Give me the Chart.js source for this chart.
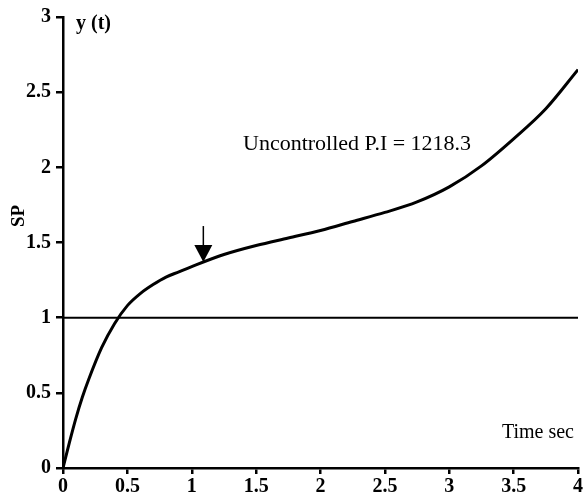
<!DOCTYPE html>
<html>
<head>
<meta charset="utf-8">
<script src="https://cdn.jsdelivr.net/npm/chart.js@4"></script>
<style>
body{margin:0;background:#fff}
#wrap{width:587px;height:500px}
</style>
</head>
<body>
<div id="wrap"><canvas id="chart"></canvas></div>
<script>
const timeVals=[0,0.05,0.1,0.15,0.2,0.3,0.4,0.5,0.6,0.7,0.8,0.9,1.0,1.25,1.5,1.75,2,2.25,2.5,2.75,3,3.25,3.5,3.75,4]
const yVals=[0,0.17,0.33,0.47,0.59,0.80,0.96,1.08,1.16,1.22,1.27,1.305,1.34,1.42,1.48,1.53,1.58,1.64,1.70,1.77,1.87,2.01,2.19,2.39,2.65]
const spTime=[0,4]
const spVals=[1,1]
const arrowAt={x:1.09,y:1.37}

const ctx=document.getElementById("chart").getContext("2d")

const serif="'Liberation Serif','Times New Roman',serif"

/* TEXT + ARROW */
const extras={
id:"extras",
afterDraw(chart){
const c=chart.ctx
const xs=chart.scales.x
const ys=chart.scales.y
c.save()
c.fillStyle="#000"
c.strokeStyle="#000"

c.font="bold 20px "+serif
c.textBaseline="middle"
c.textAlign="left"
c.fillText("y (t)",76,24)

c.font="22px "+serif
c.fillText("Uncontrolled P.I = 1218.3",243,144)
c.font="20px "+serif
c.textAlign="right"
c.fillText("Time sec",574,433)

c.save()
c.translate(19,216)
c.rotate(-Math.PI/2)
c.textAlign="center"
c.font="bold 19px "+serif
c.fillText("SP",0,0)
c.restore()

/* arrow */
const ax=xs.getPixelForValue(arrowAt.x)
const ay=ys.getPixelForValue(arrowAt.y)
c.lineWidth=1.5
c.beginPath()
c.moveTo(ax,ay-36)
c.lineTo(ax,ay-16)
c.stroke()
c.beginPath()
c.moveTo(ax-9,ay-17)
c.lineTo(ax+9,ay-17)
c.lineTo(ax,ay)
c.closePath()
c.fill()
c.restore()
}
}

const tickFont={family:serif,size:20,weight:"bold"}

new Chart(ctx,{
type:"scatter",
data:{
datasets:[{
data:timeVals.map((t,i)=>({x:t,y:yVals[i]})),
showLine:true,
borderColor:"#000",
borderWidth:3,
pointRadius:0,
cubicInterpolationMode:"monotone"
},{
data:spTime.map((t,i)=>({x:t,y:spVals[i]})),
showLine:true,
borderColor:"#000",
borderWidth:2,
pointRadius:0
}]
},
options:{
responsive:true,
maintainAspectRatio:false,
animation:false,
layout:{padding:{left:0,right:9,top:16,bottom:0}},
plugins:{legend:{display:false},tooltip:{enabled:false}},
scales:{
x:{
type:"linear",
min:0,max:4,
ticks:{stepSize:0.5,color:"#000",font:tickFont,maxRotation:0,padding:1,callback:v=>String(v)},
grid:{drawOnChartArea:false,drawTicks:true,tickLength:6,color:"#000",lineWidth:2.5},
border:{color:"#000",width:2.5},
afterFit(s){s.height=32}
},
y:{
type:"linear",
min:0,max:3,
ticks:{stepSize:0.5,color:"#000",font:tickFont,padding:5,callback:v=>String(v)},
grid:{drawOnChartArea:false,drawTicks:true,tickLength:7,color:"#000",lineWidth:2.5},
border:{color:"#000",width:2.5},
afterFit(s){s.width=63}
}
}
},
plugins:[extras]
})
</script>
</body>
</html>
